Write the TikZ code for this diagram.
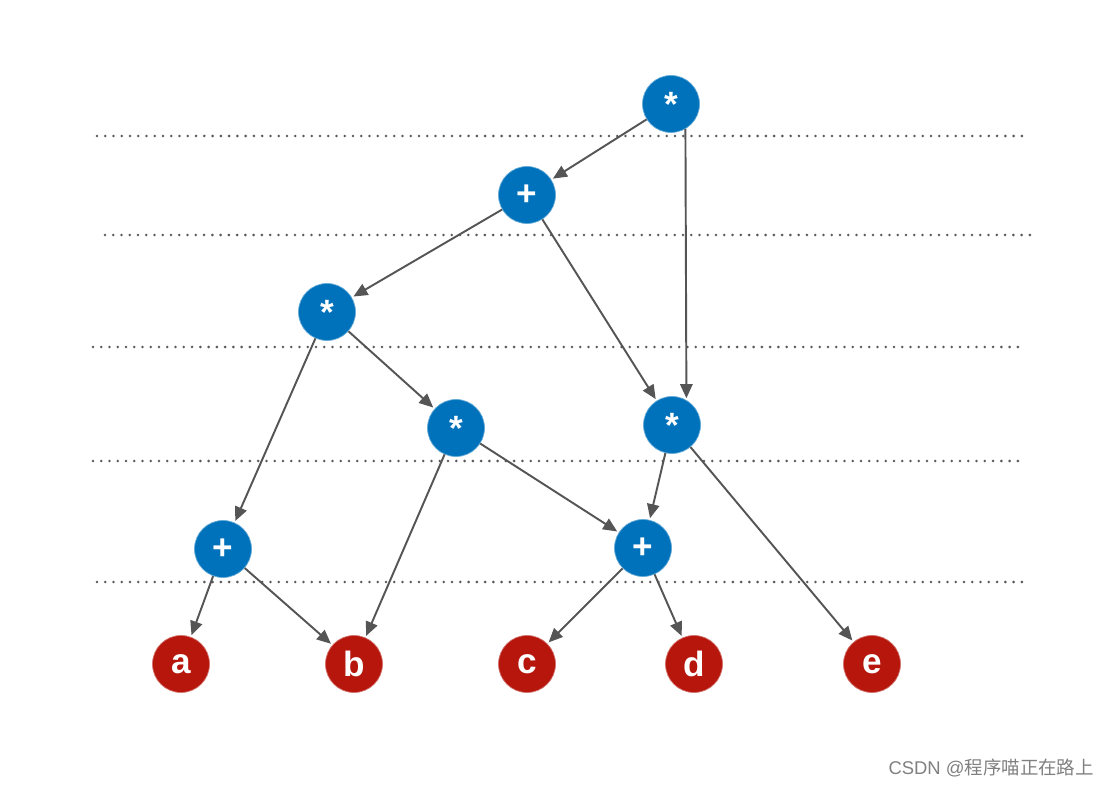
\documentclass[tikz,border=0pt]{standalone}
\usepackage{fontspec}
\setmainfont{Liberation Sans}
\newfontfamily\cjkfont{Noto Sans CJK SC}
\usetikzlibrary{arrows.meta}

\definecolor{opblue}{RGB}{0,114,187}
\definecolor{leafred}{RGB}{182,22,12}
\definecolor{edgegray}{RGB}{85,85,85}

\begin{document}
\begin{tikzpicture}[
  x=0.02cm, y=-0.02cm,
  op/.style={circle, fill=opblue, draw=opblue!60!white, line width=0.4pt, minimum size=1.14cm, inner sep=0pt, text=white, font=\fontsize{20}{24}\selectfont\bfseries},
  leaf/.style={circle, fill=leafred, draw=leafred!60!white, line width=0.4pt, minimum size=1.14cm, inner sep=0pt, text=white, font=\fontsize{20}{24}\selectfont\bfseries},
  arrow/.style={-{Triangle[length=8pt,width=7pt]}, edgegray, line width=1.1pt, shorten >=1pt},
  level/.style={gray!70!black, line width=1.6pt, line cap=round, dash pattern=on 0pt off 4.7pt}
]
\useasboundingbox (0,0) rectangle (1116,786);

% level separators
\draw[level] (97,136) -- (1025,136);
\draw[level] (105,235) -- (1033,235);
\draw[level] (93,347) -- (1022,347);
\draw[level] (93,461) -- (1022,461);
\draw[level] (97,582) -- (1025,582);

\node[op] (m1) at (671,104) {*};
\node[op] (p1) at (527,195) {+};
\node[op] (m2) at (327,312) {*};
\node[op] (m3) at (456,428) {*};
\node[op] (m4) at (672,425) {*};
\node[op] (p2) at (223,549) {+};
\node[op] (p3) at (643,548) {+};

\node[leaf] (a) at (181,664) {a};
\node[leaf] (b) at (354,664) {b};
\node[leaf] (c) at (527,664) {c};
\node[leaf] (d) at (694,664) {d};
\node[leaf] (e) at (872,664) {e};

\draw[arrow] (m1) -- (p1);
\draw[arrow] (m1.-60) -- (m4.60);
\draw[arrow] (p1) -- (m2);
\draw[arrow] (p1) -- (m4);
\draw[arrow] (m2) -- (p2);
\draw[arrow] (m2) -- (m3);
\draw[arrow] (m3) -- (b);
\draw[arrow] (m3) -- (p3);
\draw[arrow] (m4) -- (p3);
\draw[arrow] (m4) -- (e);
\draw[arrow] (p2) -- (a);
\draw[arrow] (p2) -- (b);
\draw[arrow] (p3) -- (c);
\draw[arrow] (p3) -- (d);

\node[text=gray, font=\fontsize{10.5}{12}\selectfont, anchor=east] (mark) at (1100,768) {CSDN @{\cjkfont 程序喵正在路上}};
\end{tikzpicture}
\end{document}
